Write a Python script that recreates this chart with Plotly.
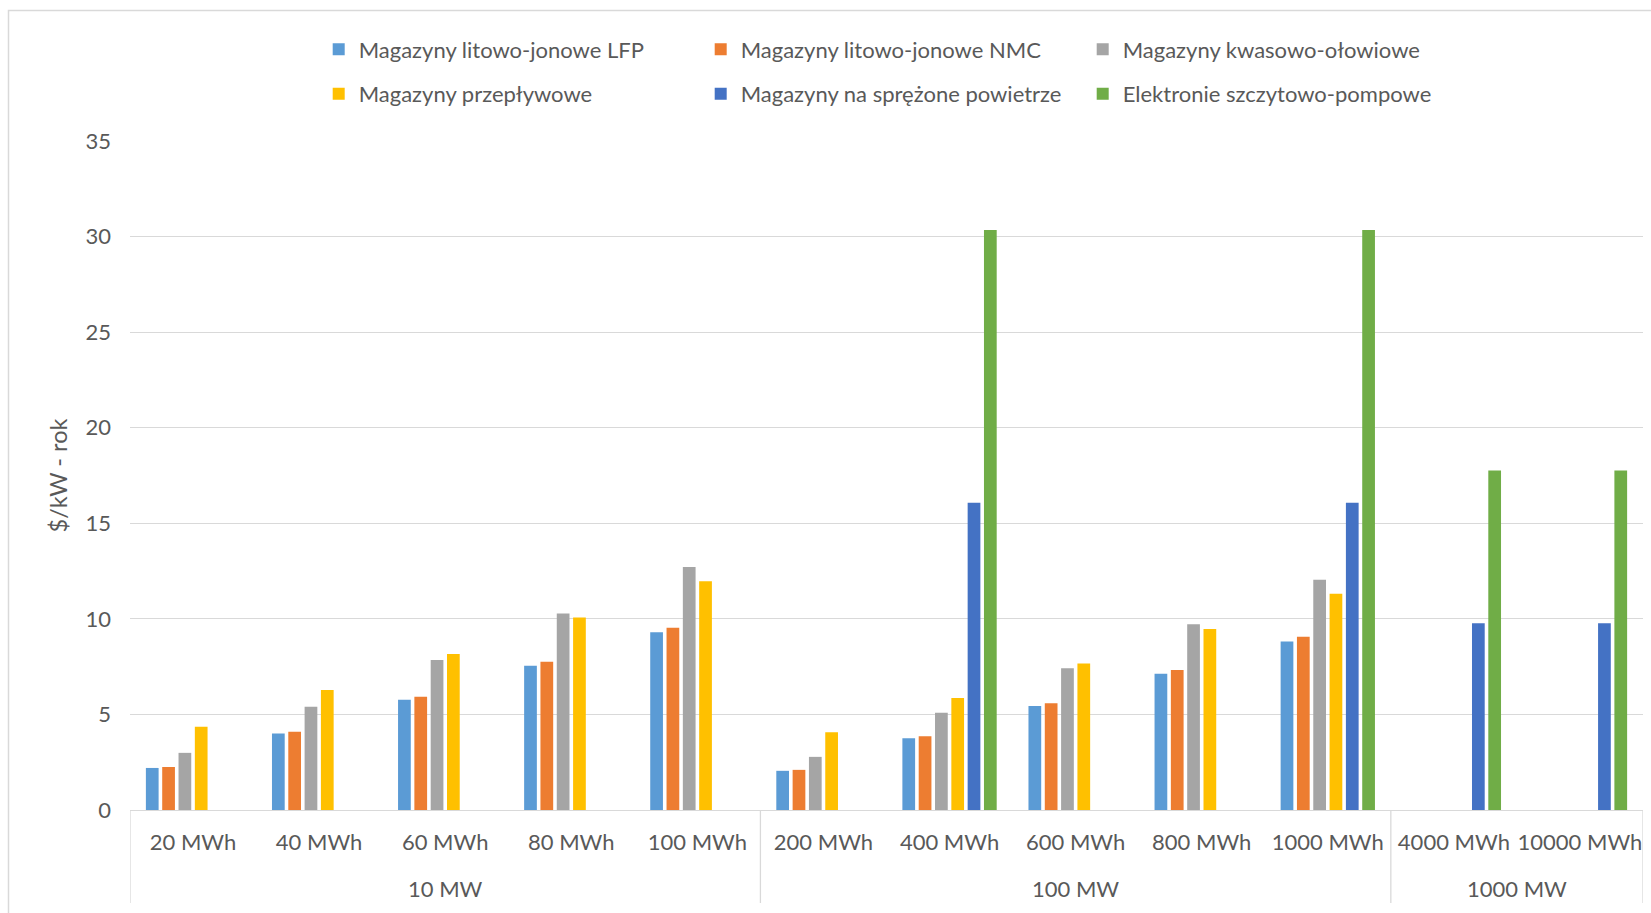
import plotly.graph_objects as go

categories = ["20 MWh", "40 MWh", "60 MWh", "80 MWh", "100 MWh",
              "200 MWh", "400 MWh", "600 MWh", "800 MWh", "1000 MWh",
              "4000 MWh", "10000 MWh"]
groups = ["10 MW", "100 MW", "1000 MW"]
group_centers = [2, 7, 10.5]
group_dividers = [-0.5, 4.5, 9.5, 11.5]

series_names = ["Magazyny litowo-jonowe LFP", "Magazyny litowo-jonowe NMC",
                "Magazyny kwasowo-ołowiowe", "Magazyny przepływowe",
                "Magazyny na sprężone powietrze", "Elektronie szczytowo-pompowe"]

lfp = [2.20, 4.00, 5.77, 7.55, 9.30, 2.05, 3.76, 5.44, 7.13, 8.81, None, None]
nmc = [2.25, 4.09, 5.93, 7.76, 9.54, 2.10, 3.86, 5.59, 7.32, 9.06, None, None]
lead_acid = [2.99, 5.40, 7.85, 10.28, 12.71, 2.78, 5.09, 7.41, 9.72, 12.04, None, None]
flow = [4.35, 6.28, 8.16, 10.07, 11.97, 4.07, 5.86, 7.67, 9.47, 11.31, None, None]
caes = [None, None, None, None, None, None, 16.08, None, None, 16.08, 9.77, 9.77]
pumped = [None, None, None, None, None, None, 30.35, None, None, 30.35, 17.76, 17.76]

series_values = [lfp, nmc, lead_acid, flow, caes, pumped]
colors = ["#5B9BD5", "#ED7D31", "#A5A5A5", "#FFC000", "#4472C4", "#70AD47"]

FONT = "Lato"
TXT = "#595959"
GRID = "#D9D9D9"

W, H = 1651, 913
L, R, T, B = 130, 8, 141, 103
PW, PH = W - L - R, H - T - B

fig = go.Figure()
for i, (name, vals, col) in enumerate(zip(series_names, series_values, colors)):
    fig.add_trace(go.Bar(
        x=categories, y=vals, name=name,
        marker=dict(color=col, line=dict(width=0)),
        legend="legend" if i < 3 else "legend2",
    ))

def py(p):
    return (H - B - p) / PH

def px(p):
    return (p - L) / PW

legend_common = dict(
    orientation="h", xref="container", yref="container",
    xanchor="left", yanchor="middle",
    entrywidth=337, entrywidthmode="pixels",
    font=dict(family=FONT, size=22, color=TXT),
    bgcolor="rgba(0,0,0,0)", itemclick=False,
    traceorder="normal",
)

fig.update_layout(
    width=W, height=H,
    margin=dict(l=L, r=R, t=T, b=B),
    paper_bgcolor="white", plot_bgcolor="white",
    barmode="group", bargap=0.2235, bargroupgap=0.22,
    font=dict(family=FONT, color=TXT),
    legend=dict(legend_common, x=(342.7 - 30 + 6) / W, y=1 - 49.5 / H),
    legend2=dict(legend_common, x=(342.7 - 30 + 6) / W, y=1 - 94 / H),
    xaxis=dict(
        type="category", range=[-0.5, 11.5],
        showline=True, linecolor=GRID, linewidth=1.3,
        showgrid=False, ticks="", ticklabelstandoff=12,
        tickfont=dict(family=FONT, size=22, color=TXT),
    ),
    yaxis=dict(
        range=[0, 35], dtick=5, showline=False, zeroline=False,
        showgrid=True, gridcolor=GRID, gridwidth=1.3,
        ticks="", ticklabelstandoff=18,
        tickfont=dict(family=FONT, size=22, color=TXT),
        title=dict(text="$/kW - rok", font=dict(family=FONT, size=23.5, color=TXT), standoff=11),
    ),
)

for g, c in zip(groups, group_centers):
    fig.add_annotation(x=c, xref="x", y=py(888.3), yref="paper",
                       text=g, showarrow=False, yanchor="middle",
                       font=dict(family=FONT, size=22, color=TXT))

for d in group_dividers:
    fig.add_shape(type="line", xref="x", yref="paper",
                  x0=d, x1=d, y0=py(903), y1=0,
                  line=dict(color=GRID, width=1.3))

# chart-area border (partially cropped on the right/bottom)
fig.add_shape(type="rect", xref="paper", yref="paper",
              x0=px(8.5), x1=px(1700), y0=py(960), y1=py(10.5),
              line=dict(color=GRID, width=1.5), fillcolor="rgba(0,0,0,0)",
              layer="below")

fig.write_html("out.html")
